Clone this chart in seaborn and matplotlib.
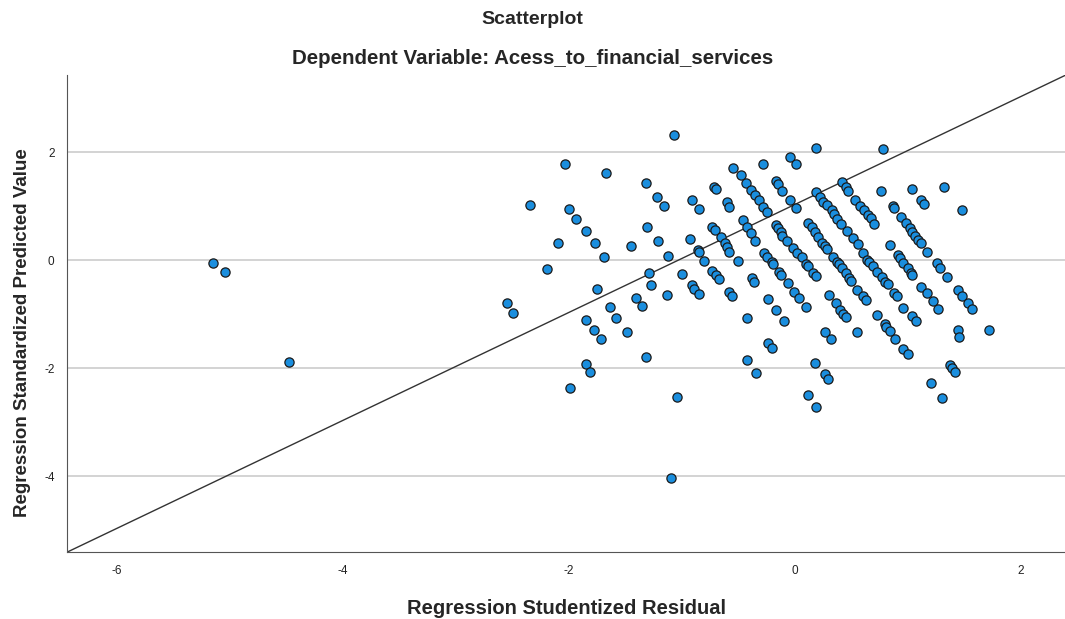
import matplotlib
matplotlib.use("Agg")
import matplotlib.pyplot as plt
import seaborn as sns
import pandas as pd

# studentized residual (x) vs standardized predicted value (y)
resid = [
    -5.15, -5.04, -4.48, -2.03, -1.67, -2.34, -2.00, -1.94, -1.85, -2.10, -1.77,
    -1.07, -1.32, -1.22, -1.16, -0.91, -0.85, -0.72, -0.70, -0.60, -0.58, -0.55,
    -0.48, -0.43, -1.31, -1.21, -0.93, -0.73, -0.71, -0.65, -0.62, -1.45,
    0.19, -0.28, -0.04, 0.01, -0.39, -0.35, -0.32, -0.28, -0.25, -0.17, -0.15,
    -0.11, -0.04, 0.01, 0.19, 0.22, 0.25, 0.28, 0.33, 0.35, 0.37, 0.41, 0.42,
    0.45, 0.47, 0.53, 0.58, 0.61, -0.46, -0.42, -0.39, -0.35, -0.17, -0.15,
    -0.12, -0.11, -0.07, 0.12, 0.15, 0.18, 0.20, 0.46, 0.51, 0.56,
    0.78, 0.76, 1.04, 1.32, 1.12, 1.14, 1.48, 0.87, 0.88, 0.94, 0.98, 1.02,
    1.04, 1.06, 1.09, 1.12, 0.65, 0.67, 0.70, 0.84,
    -1.69, -2.19, -1.75, -2.55, -2.49, -1.85, -1.78, -1.72, -1.64, -1.58, -1.85,
    -1.12, -0.86, -0.85, -0.80, -0.60, -0.58, -0.50, -1.29, -1.27, -1.00, -0.91,
    -0.89, -0.85, -0.73, -0.70, -0.67, -0.58, -0.56, -1.13, -1.41, -1.35, -1.49,
    -1.32,
    -0.27, -0.25, -0.20, -0.19, -0.14, -0.12, -0.06, -0.01, 0.04, 0.10, -0.02,
    0.02, 0.06, 0.10, 0.12, 0.16, 0.19, 0.24, 0.27, 0.28, 0.34, 0.37, 0.39,
    0.42, 0.45, 0.48, 0.50, 0.60, 0.64, -0.38, -0.36, -0.24, -0.17, -0.10,
    -0.42, 0.30, 0.36, 0.40, 0.43, 0.45, 0.55, 0.60, 0.63, 0.27, 0.32, 0.55,
    -0.24, -0.20, -0.42, 0.18,
    0.66, 0.69, 0.73, 0.77, 0.80, 0.82, 0.91, 0.93, 0.96, 1.00, 1.03, 1.04,
    1.17, 1.26, 1.28, 1.35, 1.12, 1.17, 1.22, 1.27, 1.44, 1.48, 1.53, 1.57,
    0.88, 0.90, 0.73, 0.80, 0.81, 0.84, 0.89, 0.96, 1.04, 1.07, 0.96, 1.00,
    1.44, 1.45, 1.72,
    -1.81, -1.99, -1.04, -1.10, -0.34, 0.27, 0.29, 0.12, 0.19, 1.37, 1.39,
    1.42, 1.20, 1.30,
]
pred = [
    -0.06, -0.22, -1.89, 1.78, 1.61, 1.02, 0.94, 0.76, 0.54, 0.31, 0.31,
    2.31, 1.43, 1.17, 1.00, 1.11, 0.94, 1.35, 1.31, 1.07, 0.98, 1.70,
    1.57, 1.43, 0.61, 0.35, 0.39, 0.61, 0.56, 0.43, 0.31, 0.26,
    2.07, 1.78, 1.91, 1.78, 1.30, 1.20, 1.11, 0.98, 0.89, 1.46, 1.41,
    1.28, 1.11, 0.96, 1.26, 1.17, 1.07, 1.02, 0.93, 0.85, 0.76, 0.67, 1.44,
    1.35, 1.28, 1.11, 1.00, 0.93, 0.74, 0.61, 0.50, 0.35, 0.65, 0.59,
    0.52, 0.44, 0.35, 0.69, 0.61, 0.52, 0.43, 0.54, 0.41, 0.30,
    2.06, 1.28, 1.31, 1.35, 1.11, 1.04, 0.93, 1.00, 0.96, 0.80, 0.69, 0.59,
    0.52, 0.44, 0.37, 0.31, 0.83, 0.78, 0.67, 0.28,
    0.06, -0.17, -0.54, -0.80, -0.98, -1.11, -1.30, -1.46, -0.87, -1.07, -1.93,
    0.07, 0.19, 0.15, -0.02, 0.24, 0.15, -0.02, -0.24, -0.46, -0.26, -0.46,
    -0.54, -0.63, -0.20, -0.28, -0.35, -0.59, -0.67, -0.65, -0.70, -0.85, -1.33,
    -1.80,
    0.13, 0.06, -0.04, -0.07, -0.22, -0.28, -0.43, -0.59, -0.70, -0.87, 0.22,
    0.13, 0.06, -0.07, -0.11, -0.24, -0.30, 0.31, 0.26, 0.20, 0.06, -0.04, -0.07,
    -0.15, -0.24, -0.33, -0.39, 0.13, 0.00, -0.33, -0.41, -0.72, -0.93, -1.13,
    -1.07, -0.65, -0.80, -0.93, -1.00, -1.06, -0.56, -0.67, -0.74, -1.33, -1.46, -1.33,
    -1.54, -1.63, -1.85, -1.91,
    -0.04, -0.11, -0.22, -0.31, -0.41, -0.44, 0.09, 0.04, -0.06, -0.15, -0.24, -0.28,
    0.15, -0.06, -0.15, -0.31, -0.50, -0.61, -0.76, -0.91, -0.56, -0.67, -0.80, -0.91,
    -0.61, -0.67, -1.02, -1.19, -1.24, -1.31, -1.46, -0.89, -1.04, -1.13, -1.65, -1.74,
    -1.30, -1.43, -1.30,
    -2.07, -2.37, -2.54, -4.04, -2.09, -2.11, -2.20, -2.50, -2.72, -1.94, -2.00,
    -2.07, -2.28, -2.56,
]

# reference line shown by SPSS
line_intercept = 1.03
line_slope = 1.0

x_ticks = [-6, -4, -2, 0, 2]
y_ticks = [2, 0, -2, -4]

df = pd.DataFrame({"resid": resid, "pred": pred})

sns.set_style("white")
plt.rcParams["font.family"] = ["Liberation Sans", "DejaVu Sans"]
plt.rcParams["axes.unicode_minus"] = False

fig = plt.figure(figsize=(10.65, 6.19), dpi=100)
ax = fig.add_axes([0.063, 0.108, 0.937, 0.771])

for y in y_ticks:
    ax.axhline(y, color="#cccccc", lw=1.2, zorder=0)

ax.axline((0, line_intercept), slope=line_slope, color="#333333", lw=1.0, zorder=1)

sns.scatterplot(data=df, x="resid", y="pred", ax=ax, s=44, color="#1a8ede",
                edgecolor="#1a1a1a", linewidth=0.9, zorder=3)

ax.set_xlim(-6.44, 2.39)
ax.set_ylim(-5.41, 3.43)
ax.set_xticks(x_ticks)
ax.set_yticks(y_ticks)
ax.tick_params(axis="both", labelsize=8.5, length=0, pad=9, labelcolor="#222222")

for side in ["top", "right"]:
    ax.spines[side].set_visible(False)
for side in ["left", "bottom"]:
    ax.spines[side].set_color("#555555")
    ax.spines[side].set_linewidth(0.8)

ax.set_xlabel("Regression Studentized Residual", fontsize=14.5, fontweight="bold", labelpad=16)
ax.set_ylabel("Regression Standardized Predicted Value", fontsize=13.5, fontweight="bold")
ax.yaxis.set_label_coords(-0.036, 0.46)

fig.text(0.5, 0.968, "Scatterplot", ha="center", va="center", fontsize=14, fontweight="bold")
fig.text(0.5, 0.906, "Dependent Variable: Acess_to_financial_services", ha="center",
         va="center", fontsize=14.8, fontweight="bold")

fig.savefig("out.png", dpi=100)
